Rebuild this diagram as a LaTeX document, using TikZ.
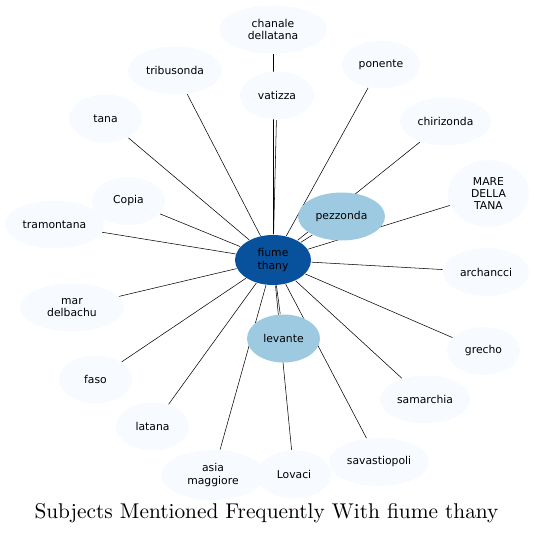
\documentclass[tikz,border=0pt]{standalone}
\usepackage{fontspec}
\newfontfamily\topicfont{DejaVu Sans}
\newfontfamily\titlefont{lmroman10-regular.otf}
\usetikzlibrary{shapes.geometric,backgrounds}

\definecolor{hubblue}{RGB}{8,81,156}
\definecolor{midblue}{RGB}{158,202,225}
\definecolor{paleblue}{RGB}{247,251,255}

\tikzset{every picture/.style={line width=0.9pt}}
\tikzset{
  topic/.style={ellipse, draw=none, fill=paleblue, inner sep=0pt, align=center,
    minimum width=#1*0.75pt, minimum height=36pt,
    font=\topicfont\fontsize{8.1}{9.2}\selectfont},
  topic/.default=72,
  strong/.style={topic=#1, fill=midblue},
  hubnode/.style={topic=#1, fill=hubblue, minimum height=37.5pt},
  link/.style={draw=black}
}

\begin{document}
\begin{tikzpicture}[x=0.75pt,y=0.75pt,yscale=-1,xscale=1]
\useasboundingbox (0,0) rectangle (534,535);

% Hub
\node[hubnode=76] (hub) at (273,260) {fiume\\thany};

% Topics, clockwise from the top
\node[topic=108] (chanale) at (273,29.5) {chanale\\dellatana};
\node[topic=74] (vatizza) at (277,95.5) {vatizza};
\node[topic=78] (ponente) at (381,64.5) {ponente};
\node[topic=91] (chirizonda) at (445.5,121.5) {chirizonda};
\node[topic=81, minimum height=50pt] (mare) at (488.5,193.5) {MARE\\DELLA\\TANA};
\node[strong=87] (pezzonda) at (341.5,216.5) {pezzonda};
\node[topic=86] (archancci) at (486,272) {archancci};
\node[topic=73] (grecho) at (483.5,351) {grecho};
\node[topic=90] (samarchia) at (425,399.5) {samarchia};
\node[topic=100] (savastiopoli) at (379,462) {savastiopoli};
\node[topic=74] (lovaci) at (294,474.5) {Lovaci};
\node[topic=104, minimum height=37.5pt] (asia) at (213,475) {asia\\maggiore};
\node[strong=73] (levante) at (283.5,338.5) {levante};
\node[topic=73] (latana) at (152.5,426.5) {latana};
\node[topic=73] (faso) at (95.5,379.5) {faso};
\node[topic=104] (delbachu) at (72,307.5) {mar\\delbachu};
\node[topic=99] (tramontana) at (54.5,224.5) {tramontana};
\node[topic=73] (copia) at (128.5,201) {Copia};
\node[topic=73] (tana) at (105.5,118.5) {tana};
\node[topic=94] (tribusonda) at (175,70.5) {tribusonda};

% Links, kept behind the ellipses
\begin{scope}[on background layer]
  \foreach \t in {chanale,vatizza,ponente,chirizonda,mare,pezzonda,archancci,
                  grecho,samarchia,savastiopoli,lovaci,asia,levante,latana,
                  faso,delbachu,tramontana,copia,tana,tribusonda}
    \draw[link] (hub) -- (\t);
\end{scope}

% Title
\node[font=\titlefont\fontsize{16}{19}\selectfont] (title) at (266.5,513) {Subjects Mentioned Frequently With fiume thany};

\end{tikzpicture}
\end{document}
